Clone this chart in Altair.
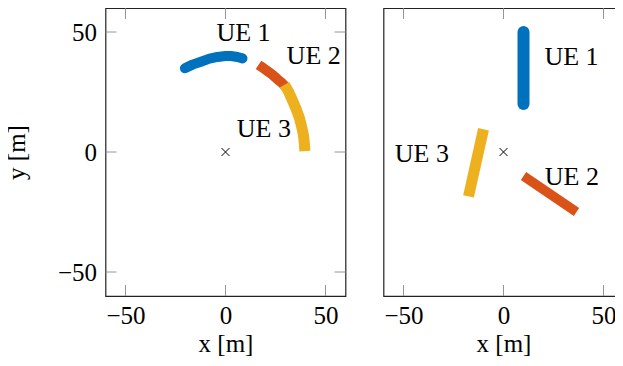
import altair as alt
import pandas as pd

# ---- data ----
tick_values = [-50, 0, 50]

# left panel trajectories (x, y in metres)
l_ue1_x = [-20.3, -16.5, -12.3, -8.0, -4.0, 0.0, 2.7, 6.0, 8.5]
l_ue1_y = [34.9, 36.4, 37.6, 38.9, 39.6, 40.0, 40.0, 39.6, 39.0]
l_ue2_x = [16.5, 18.5, 21.0, 23.5, 26.0, 28.2, 30.5]
l_ue2_y = [36.3, 35.2, 33.7, 32.2, 30.3, 28.8, 26.8]
l_ue3_x = [29.5, 31.5, 33.5, 35.3, 36.9, 38.0, 38.9, 39.4, 39.7]
l_ue3_y = [28.0, 25.2, 21.5, 18.0, 14.3, 10.8, 7.4, 3.8, 0.4]

# right panel trajectories
r_ue1_x = [10.0, 10.0]
r_ue1_y = [20.0, 50.0]
r_ue2_x = [10.0, 36.5]
r_ue2_y = [-10.0, -25.0]
r_ue3_x = [-10.0, -17.5]
r_ue3_y = [9.5, -18.5]

# base station
bs_x = [0]
bs_y = [0]

# labels
labels = ["UE 1", "UE 2", "UE 3"]
l_lab_x = [9.0, 44.1, 19.2]
l_lab_y = [46.3, 36.5, 6.3]
r_lab_x = [34.0, 34.2, -40.8]
r_lab_y = [36.3, -13.9, -4.0]

colors = ["#0072BD", "#D95319", "#EDB120"]
FONT = "Liberation Serif"
W, H = 240, 288
TL = 11  # inner tick length (px)


def series(xs, ys):
    return pd.DataFrame({"x": xs, "y": ys, "i": list(range(len(xs)))})


xscale = alt.Scale(domain=[-60, 60], nice=False, zero=False)
yscale = alt.Scale(domain=[-60, 60], nice=False, zero=False)


def xenc(show=True):
    if show:
        return alt.X("x:Q", scale=xscale, title="x [m]",
                     axis=alt.Axis(values=tick_values, ticks=False, domain=False, grid=False,
                                   labelPadding=7, titlePadding=3))
    return alt.X("x:Q", scale=xscale, axis=None)


def yenc(show=True):
    if show:
        return alt.Y("y:Q", scale=yscale, title="y [m]",
                      axis=alt.Axis(values=tick_values, ticks=False, domain=False, grid=False,
                                    labelPadding=9, titlePadding=28))
    return alt.Y("y:Q", scale=yscale, axis=None)


def tick_layers(with_y):
    td = pd.DataFrame({"t": tick_values})
    base = alt.Chart(td).mark_rule(color="#8a8a8a", strokeWidth=0.9)
    layers = [
        base.encode(x=alt.X("t:Q", scale=xscale), y=alt.value(H), y2=alt.value(H - TL)),
        base.encode(x=alt.X("t:Q", scale=xscale), y=alt.value(0), y2=alt.value(TL)),
    ]
    if with_y:
        layers += [
            base.encode(y=alt.Y("t:Q", scale=yscale), x=alt.value(0), x2=alt.value(TL)),
            base.encode(y=alt.Y("t:Q", scale=yscale), x=alt.value(W), x2=alt.value(W - TL)),
        ]
    return layers


def line(xs, ys, color, width, cap, show_y):
    return alt.Chart(series(xs, ys)).mark_line(
        color=color, strokeWidth=width, strokeCap=cap, strokeJoin="round"
    ).encode(x=xenc(), y=yenc(show_y), order="i:Q")


def bs(show_y):
    return alt.Chart(pd.DataFrame({"x": bs_x, "y": bs_y})).mark_point(
        shape="M -1 -1 L 1 1 M -1 1 L 1 -1", size=64, filled=False,
        color="black", strokeWidth=1, opacity=1
    ).encode(x=xenc(), y=yenc(show_y))


def text_layer(xs, ys, show_y):
    df = pd.DataFrame({"x": xs, "y": ys, "label": labels})
    return alt.Chart(df).mark_text(
        font=FONT, fontSize=26, align="center", baseline="alphabetic", color="black"
    ).encode(x=xenc(), y=yenc(show_y), text="label:N")


left = alt.layer(
    line(l_ue1_x, l_ue1_y, colors[0], 10, "round", True),
    line(l_ue2_x, l_ue2_y, colors[1], 10, "butt", True),
    line(l_ue3_x, l_ue3_y, colors[2], 11, "butt", True),
    bs(True),
    text_layer(l_lab_x, l_lab_y, True),
    *tick_layers(True),
).properties(width=W, height=H)

right = alt.layer(
    line(r_ue1_x, r_ue1_y, colors[0], 12, "round", False),
    line(r_ue2_x, r_ue2_y, colors[1], 9.5, "butt", False),
    line(r_ue3_x, r_ue3_y, colors[2], 11, "butt", False),
    bs(False),
    text_layer(r_lab_x, r_lab_y, False),
    *tick_layers(False),
).properties(width=W, height=H)

chart = alt.hconcat(left, right, spacing=38, bounds="flush").properties(
    padding={"left": -4.5, "top": -2, "right": -10, "bottom": 1},
    background="white",
).configure_view(
    stroke="#222222", strokeWidth=1.2
).configure_axis(
    labelFont=FONT, labelFontSize=25, labelColor="black",
    titleFont=FONT, titleFontSize=25, titleColor="black", titleFontWeight="normal",
)

chart.save("out.html", embed_options={"renderer": "svg", "actions": False})
